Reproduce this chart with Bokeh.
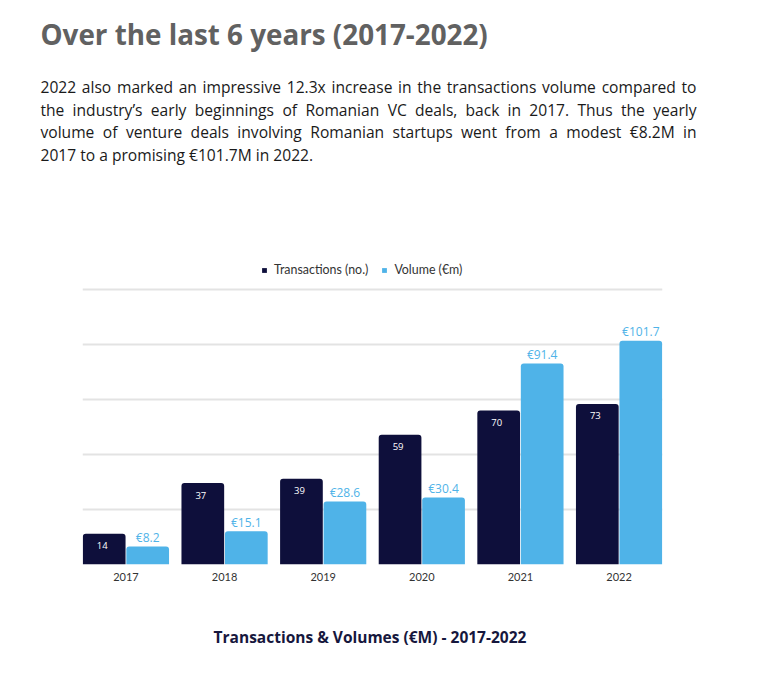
from bokeh.plotting import figure
from bokeh.layouts import column
from bokeh.models import (ColumnDataSource, FactorRange, Range1d, FixedTicker,
                          Legend, LegendItem)
from bokeh.transform import dodge
from bokeh.core.properties import value
from bokeh.embed import file_html
from bokeh.resources import INLINE

# ---------------- data ----------------
years = ["2017", "2018", "2019", "2020", "2021", "2022"]
transactions = [14, 37, 39, 59, 70, 73]
volumes = [8.2, 15.1, 28.6, 30.4, 91.4, 101.7]
volume_labels = ["€8.2", "€15.1", "€28.6", "€30.4", "€91.4", "€101.7"]
grid_ticks = [0, 25, 50, 75, 100, 125]

series_names = ["Transactions (no.)", "Volume (€m)"]
title_text = "Over the last 6 years (2017-2022)"
caption_text = "Transactions & Volumes (€M) - 2017-2022"
paragraph_lines = [
    "2022 also marked an impressive 12.3x increase in the transactions volume compared to",
    "the industry’s early beginnings of Romanian VC deals, back in 2017. Thus the yearly",
    "volume of venture deals involving Romanian startups went from a modest €8.2M in",
    "2017 to a promising €101.7M in 2022.",
]
justified = [True, True, True, False]

# ---------------- style ----------------
NAVY = "#0e0f3b"
LIGHT = "#4fb3e8"
BODY_FONT = "Open Sans"
LABEL_FONT = "Lato"
HEAD_FONT = "Open Sans"
BODY_SIZE = 15.6
W = 752
HEADER_H, CHART_H, FOOTER_H = 245, 355, 72
TEXT_LEFT, TEXT_RIGHT = 40, 696

# approximate Open Sans advance widths (units per 2048 em) for justification
_OS_W = {" ": 532, ",": 502, ".": 545, "-": 659, "’": 358, "€": 1171,
         "C": 1292, "M": 1823, "R": 1260, "T": 1139, "V": 1212,
         "a": 1139, "b": 1255, "c": 975, "d": 1255, "e": 1149, "f": 694, "g": 1122,
         "h": 1257, "i": 518, "j": 518, "k": 1075, "l": 518, "m": 1905, "n": 1257,
         "o": 1237, "p": 1255, "q": 1255, "r": 836, "s": 977, "t": 723, "u": 1257,
         "v": 1026, "w": 1593, "x": 1073, "y": 1028, "z": 977}


def text_w(s, size):
    return sum(_OS_W.get(ch, 1171) for ch in s) / 2048.0 * size


def blank_fig(height):
    f = figure(width=W, height=height, x_range=Range1d(0, W), y_range=Range1d(height, 0),
               output_backend="svg", toolbar_location=None,
               x_axis_location=None, y_axis_location=None, frame_align=False,
               min_border=0, min_border_left=0, min_border_right=0,
               min_border_top=0, min_border_bottom=0)
    f.grid.visible = False
    f.outline_line_color = None
    f.background_fill_color = "white"
    f.border_fill_color = "white"
    return f


# ---------------- header (title + paragraph) ----------------
header = blank_fig(HEADER_H)
header.text(x=[TEXT_LEFT], y=[33], text=[title_text], text_font=value(HEAD_FONT),
            text_font_size="27.8px", text_font_style="bold", text_color="#616161",
            text_align="left", text_baseline="alphabetic")

line_baselines = [86.5, 109, 131.5, 154]
for line, base, just in zip(paragraph_lines, line_baselines, justified):
    if just:
        words = line.split(" ")
        widths = [text_w(w_, BODY_SIZE) for w_ in words]
        gap = (TEXT_RIGHT - TEXT_LEFT - sum(widths)) / (len(words) - 1)
        xs, aligns, cur = [], [], TEXT_LEFT
        for i, w_ in enumerate(widths):
            if i == len(words) - 1:
                xs.append(TEXT_RIGHT)
                aligns.append("right")
            else:
                xs.append(cur)
                aligns.append("left")
            cur += w_ + gap
    else:
        words, xs, aligns = [line], [TEXT_LEFT], ["left"]
    header.text(x=xs, y=[base] * len(words), text=words, text_font=value(BODY_FONT),
                text_font_size=f"{BODY_SIZE}px", text_color="#1a1a1a",
                text_align=aligns, text_baseline="alphabetic")

# ---------------- chart ----------------
src = ColumnDataSource(dict(
    year=years,
    trans=transactions,
    vol=volumes,
    trans_lbl=[str(t) for t in transactions],
    vol_lbl=volume_labels,
))

p = figure(
    width=W, height=CHART_H,
    x_range=FactorRange(factors=years, range_padding=-0.0595, range_padding_units="absolute"),
    y_range=Range1d(0, 140.45),
    output_backend="svg", toolbar_location=None, frame_align=False,
    min_border_left=82, min_border_right=90, min_border_top=10, min_border_bottom=36,
)
p.outline_line_color = None
p.background_fill_color = "white"
p.border_fill_color = "white"

BW = 0.433
OFF = 0.2205

r1 = p.vbar(x=dodge("year", -OFF, range=p.x_range), top="trans", bottom=0, width=BW,
            source=src, fill_color=NAVY, line_color=None, border_radius=(3, 3, 0, 0))
r2 = p.vbar(x=dodge("year", OFF, range=p.x_range), top="vol", bottom=0, width=BW,
            source=src, fill_color=LIGHT, line_color=None, border_radius=(3, 3, 0, 0))

p.text(x=dodge("year", -OFF, range=p.x_range), y="trans", text="trans_lbl", source=src,
       text_color="white", text_font=value(HEAD_FONT), text_font_size="9.5px",
       text_align="center", text_baseline="middle", y_offset=12, x_offset=-2)
p.text(x=dodge("year", OFF, range=p.x_range), y="vol", text="vol_lbl", source=src,
       text_color=LIGHT, text_font=value(HEAD_FONT), text_font_size="12px",
       text_align="center", text_baseline="middle", y_offset=-9)

p.yaxis.visible = False
p.xgrid.visible = False
p.ygrid.ticker = FixedTicker(ticks=grid_ticks)
p.ygrid.grid_line_color = "#e3e3e3"
p.ygrid.grid_line_width = 2
p.xaxis.axis_line_color = None
p.xaxis.major_tick_line_color = None
p.xaxis.minor_tick_line_color = None
p.xaxis.major_tick_out = 0
p.xaxis.major_tick_in = 0
p.xaxis.major_label_standoff = 8
p.xaxis.major_label_text_font = LABEL_FONT
p.xaxis.major_label_text_font_size = "11px"
p.xaxis.major_label_text_color = "#333333"

legend = Legend(
    items=[LegendItem(label=series_names[0], renderers=[r1]),
           LegendItem(label=series_names[1], renderers=[r2])],
    location=(179, 287), orientation="horizontal",
    glyph_width=6, glyph_height=6, label_standoff=7, spacing=13,
    padding=0, margin=0, border_line_color=None, background_fill_alpha=0,
    label_text_font=LABEL_FONT, label_text_font_size="12.4px",
    label_text_color="#333333", label_height=12,
)
p.add_layout(legend)

# ---------------- footer (caption) ----------------
footer = blank_fig(FOOTER_H)
footer.text(x=[369.5], y=[36], text=[caption_text], text_font=value(HEAD_FONT),
            text_font_size="15.5px", text_font_style="bold", text_color="#16173d",
            text_align="center", text_baseline="alphabetic")

layout = column(header, p, footer, spacing=0)
open("out.html", "w").write(file_html(layout, INLINE))
